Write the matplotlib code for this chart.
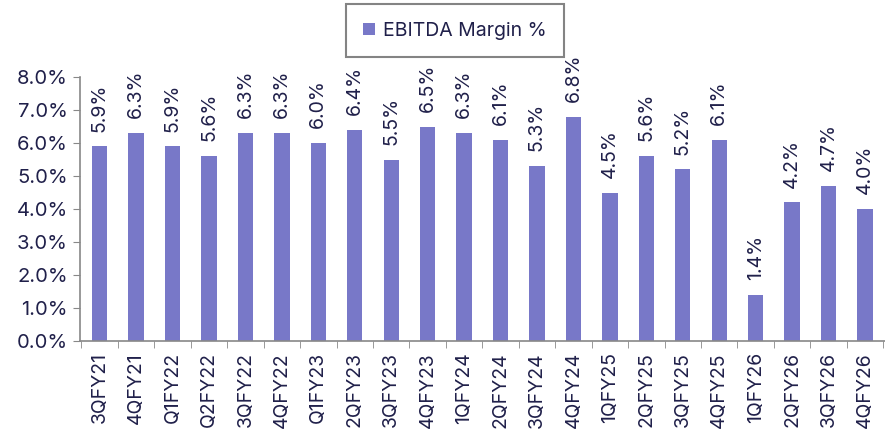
import numpy as np
from matplotlib import pyplot as plt

quarters = ["3QFY21", "4QFY21", "Q1FY22", "Q2FY22", "3QFY22", "4QFY22", "Q1FY23",
            "2QFY23", "3QFY23", "4QFY23", "1QFY24", "2QFY24", "3QFY24", "4QFY24",
            "1QFY25", "2QFY25", "3QFY25", "4QFY25", "1QFY26", "2QFY26", "3QFY26",
            "4QFY26"]
margin = [5.9, 6.3, 5.9, 5.6, 6.3, 6.3, 6.0, 6.4, 5.5, 6.5, 6.3, 6.1, 5.3, 6.8,
          4.5, 5.6, 5.2, 6.1, 1.4, 4.2, 4.7, 4.0]

txt = "#20204a"
bar_c = "#7878c8"
plt.rcParams["font.family"] = ["Inter", "DejaVu Sans"]

fig = plt.figure(figsize=(8.85, 4.36), dpi=100)
ax = fig.add_axes([0.09, 0.218, 0.91, 0.605])
X = np.arange(len(quarters))
bars = ax.bar(X, margin, width=0.42, color=bar_c, label="EBITDA Margin %")
for x, v in zip(X, margin):
    ax.text(x, v + 0.45, f"{v:.1f}%", rotation=90, ha="center", va="bottom",
            fontsize=14, color=txt)

ax.set_xlim(-0.55, len(quarters) - 0.45)
ax.set_ylim(0, 8)
ax.set_yticks(np.arange(0, 9, 1))
ax.set_yticklabels([f"{v:.1f}%" for v in range(9)], fontsize=14.5, color=txt)
ax.set_xticks(X)
ax.set_xticklabels(quarters, rotation=90, fontsize=14, color=txt)
ax.set_xticks(np.arange(-0.5, len(quarters)), minor=True)
ax.tick_params(axis="x", which="major", length=0, pad=8)
ax.tick_params(axis="x", which="minor", length=5, color="#888888")
ax.tick_params(axis="y", length=5, color="#888888")
for s in ["top", "right"]:
    ax.spines[s].set_visible(False)
for s in ["left", "bottom"]:
    ax.spines[s].set_color("#888888")
    ax.spines[s].set_linewidth(1.2)

leg = fig.legend(handles=[bars], loc="upper center", bbox_to_anchor=(0.514, 0.977),
                 fancybox=False, fontsize=14, handlelength=0.6, handleheight=0.6,
                 handletextpad=0.4, borderpad=0.4, borderaxespad=0.2,
                 labelcolor=txt)
leg.get_frame().set_edgecolor("#666666")
leg.get_frame().set_linewidth(1.5)
leg.get_frame().set_boxstyle("square", pad=0.5)

fig.savefig("out.png", dpi=100)
